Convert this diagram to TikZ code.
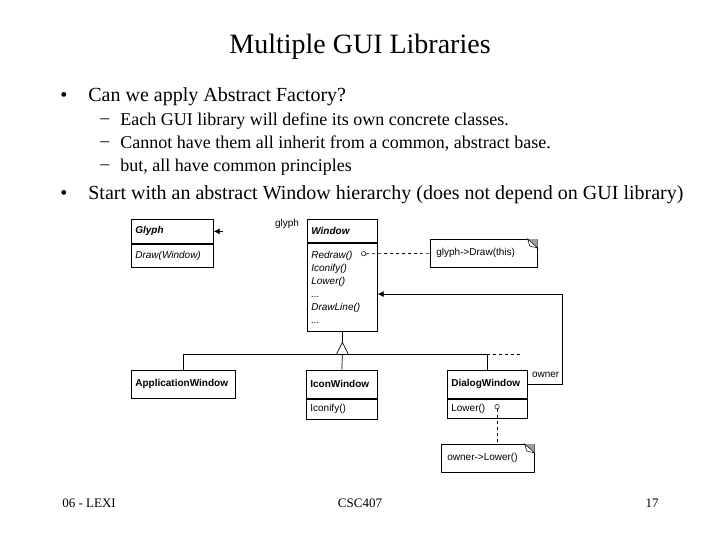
\documentclass[tikz,border=0pt]{standalone}
\usepackage{fontspec}
\setmainfont{Liberation Serif}
\setsansfont{Liberation Sans}
\usetikzlibrary{arrows.meta,positioning,calc}
\definecolor{NoteGray}{gray}{0.62}

\begin{document}
\begin{tikzpicture}[x=1pt,y=-1pt,>=Latex,line width=0.7pt,
  umlfont/.style={font=\sffamily\fontsize{10}{13}\selectfont},
  hdr/.style={draw,anchor=north west,inner xsep=4pt,inner ysep=0pt,align=left,umlfont},
  opsbox/.style={draw,anchor=north west,inner xsep=4pt,inner ysep=0pt,align=left,umlfont},
  note/.style={draw,anchor=north west,inner xsep=6pt,inner ysep=0pt,align=left,umlfont},
  port/.style={circle,draw,fill=white,inner sep=0pt,minimum size=4.5pt,line width=0.5pt},
  assoc/.style={-{Latex[length=6pt,width=6pt]}},
  tag/.style={umlfont,inner sep=1pt},
  bigtxt/.style={anchor=west,inner sep=0pt,font=\fontsize{20}{23}\selectfont},
  subtxt/.style={anchor=west,inner sep=0pt,font=\fontsize{18}{21}\selectfont},
  foot/.style={inner sep=0pt,font=\fontsize{13}{15}\selectfont}]
  \useasboundingbox (0,0) rectangle (720,540);

  \node[inner sep=0pt,font=\fontsize{28}{32}\selectfont] (title) at (360,47) {Multiple GUI Libraries};
  \node[bigtxt] (dot1) at (60,97) {•};
  \node[bigtxt] (item1) at (88,97) {Can we apply Abstract Factory?};
  \node[subtxt] (dash1) at (100,121) {–};
  \node[subtxt] (sub1) at (120,121) {Each GUI library will define its own concrete classes.};
  \node[subtxt] (dash2) at (100,144) {–};
  \node[subtxt] (sub2) at (120,144) {Cannot have them all inherit from a common, abstract base.};
  \node[subtxt] (dash3) at (100,167) {–};
  \node[subtxt] (sub3) at (120,167) {but, all have common principles};
  \node[bigtxt] (dot2) at (60,195) {•};
  \node[bigtxt] (item2) at (88,195) {Start with an abstract Window hierarchy (does not depend on GUI library)};

  \node[hdr,text width=74pt,minimum height=24pt] (glyph) at (131,219) {\textbf{\textit{Glyph}}};
  \node[opsbox,text width=74pt,minimum height=23pt] (glyphops) at (glyph.south west) {\textit{Draw(Window)}};
  \coordinate (glyphstub) at ($(glyph.east)+(9,0)$);
  \draw[assoc] (glyphstub) -- (glyph.east);
  \node[tag] (glyphrole) at (287,224) {glyph};

  \node[hdr,text width=62pt,minimum height=23pt] (window) at (307,219) {\textbf{\textit{Window}}};
  \node[opsbox,text width=62pt,minimum height=88pt] (windowops) at (window.south west)
    {\textit{Redraw()}\\\textit{Iconify()}\\\textit{Lower()}\\\textit{...}\\\textit{DrawLine()}\\\textit{...}\\[2pt]};
  \node[port] (redrawport) at ($(windowops.north east)+(-14,11)$) {};
  \node[note,text width=95pt,minimum height=28pt] (drawnote) at (430,239) {glyph->Draw(this)};
  \draw[dashed] (redrawport.east) -- (drawnote.west);

  \node[hdr,text width=96pt,minimum height=28pt] (appwin) at (131,370) {\textbf{ApplicationWindow}};
  \node[hdr,text width=63pt,minimum height=28pt] (iconwin) at (306,370) {\textbf{IconWindow}};
  \node[opsbox,text width=63pt,minimum height=20pt] (iconops) at (iconwin.south west) {Iconify()};
  \node[hdr,text width=72pt,minimum height=28pt] (dialog) at (447,370) {\textbf{DialogWindow}};
  \node[opsbox,text width=72pt,minimum height=19pt] (dialogops) at (dialog.south west) {Lower()};
  \node[port] (lowerport) at ($(dialogops.north west)+(50,8)$) {};
  \node[note,text width=81pt,minimum height=28pt] (lowernote) at (441,444) {owner->Lower()};
  \draw[dashed] (lowerport.south) -- (lowerport.south |- lowernote.north);

  \foreach \n in {drawnote,lowernote} {
    \fill[NoteGray] ($(\n.north east)+(-10,0)$) -- (\n.north east) -- ($(\n.north east)+(0,9)$) -- cycle;
    \draw[fill=white,line width=0.5pt] ($(\n.north east)+(-10,0)$) -- ($(\n.north east)+(0,9)$) -- ($(\n.north east)+(-8,7)$) -- cycle;
  }

  \coordinate (apex) at ($(windowops.south)+(0,11)$);
  \coordinate (bus) at ($(apex)+(0,12)$);
  \draw (windowops.south) -- (apex);
  \draw (appwin.north) |- (bus) -| (dialog.north);
  \draw (bus) -- (iconwin.north);
  \draw[dashed] (dialog.north |- bus) -- ++(35,0);
  \draw[fill=white] (apex) -- ++(-6,12) -- ++(12,0) -- cycle;

  \coordinate (ownerbend) at ($(dialog.east)+(35,0)$);
  \draw[assoc] (dialog.east) -- (ownerbend) |- ($(windowops.east)+(0,7)$);
  \node[tag,anchor=west] (ownerrole) at ($(dialog.east)+(3,-9)$) {owner};

  \node[foot,anchor=west] (ftleft) at (62,503) {06 - LEXI};
  \node[foot] (ftmid) at (360,503) {CSC407};
  \node[foot,anchor=east] (ftright) at (659,503) {17};
\end{tikzpicture}
\end{document}
